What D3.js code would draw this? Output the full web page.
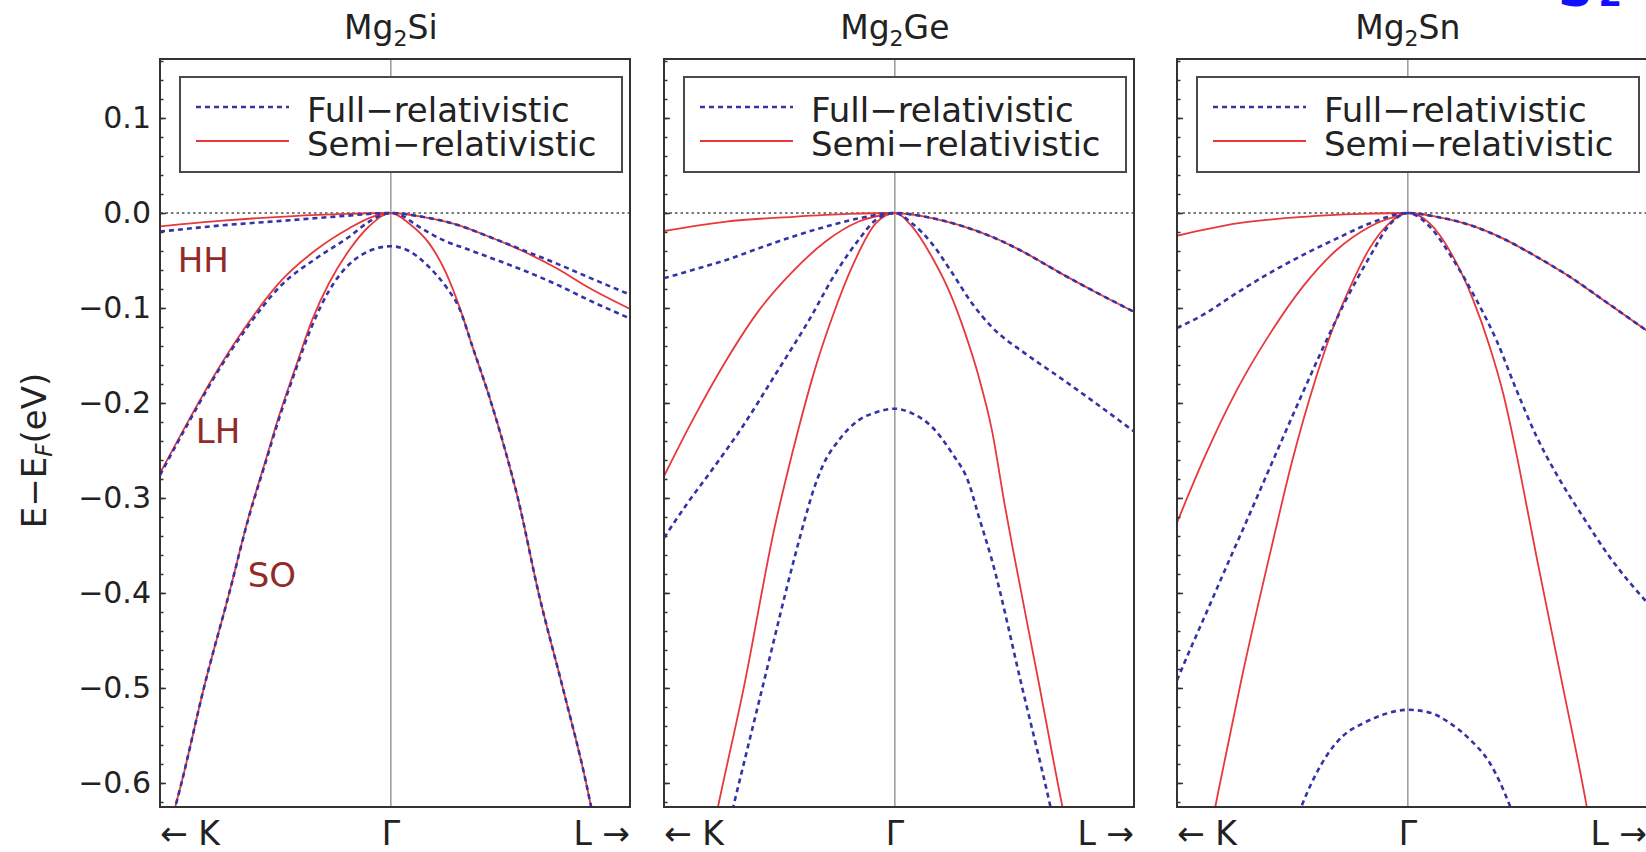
<!DOCTYPE html>
<html>
<head>
<meta charset="utf-8">
<script src="https://cdn.jsdelivr.net/npm/d3@7"></script>
<style>
  body { margin: 0; background: #fff; }
  svg { display: block; font-family: "DejaVu Sans", sans-serif; }
</style>
</head>
<body>
<div id="wrapper"></div>
<script>
// compounds Mg2X, one panel each
const compounds = ["Si", "Ge", "Sn"];
const yTickValues = [0.1, 0.0, -0.1, -0.2, -0.3, -0.4, -0.5, -0.6];
const kLabels = ["\u2190 K", "\u0393", "L \u2192"];
const legendLabels = ["Full\u2212relativistic", "Semi\u2212relativistic"];
const bandNames = ["HH", "LH", "SO"];
const bandLabelPos = [[-0.923, -0.062], [-0.845, -0.242], [-0.62, -0.394]];

// bands as [k, E-EF]; k < 0 towards K, k > 0 towards L, 0 = Gamma
const siSemiHH = [[-1,-0.014],[-0.73,-0.008],[-0.44,-0.0035],[-0.2,-0.001],[0,0],[0.137,-0.004],[0.282,-0.012],[0.426,-0.025],[0.571,-0.040],[0.716,-0.058],[0.86,-0.079],[1.036,-0.101]];
const siSemiLH = [[-1,-0.274],[-0.875,-0.218],[-0.76,-0.169],[-0.63,-0.120],[-0.47,-0.070],[-0.325,-0.039],[-0.18,-0.016],[-0.08,-0.004],[0,0]];
const siSemiSO = [[-0.95,-0.64],[-0.907,-0.60],[-0.81,-0.50],[-0.70,-0.40],[-0.615,-0.319],[-0.542,-0.26],[-0.485,-0.214],[-0.412,-0.162],[-0.34,-0.112],[-0.268,-0.074],[-0.18,-0.039],[-0.094,-0.014],[0,0],[0.079,-0.011],[0.166,-0.032],[0.239,-0.063],[0.296,-0.098],[0.354,-0.141],[0.426,-0.193],[0.499,-0.253],[0.55,-0.30],[0.64,-0.40],[0.745,-0.50],[0.846,-0.60],[0.88,-0.64]];
const siFullHH = [[-1,-0.0196],[-0.73,-0.013],[-0.44,-0.0077],[-0.224,-0.0035],[0,0],[0.137,-0.004],[0.282,-0.012],[0.426,-0.025],[0.571,-0.039],[0.716,-0.053],[0.86,-0.068],[1.036,-0.086]];
const siFullLH = [[-1,-0.276],[-0.875,-0.22],[-0.76,-0.171],[-0.63,-0.123],[-0.47,-0.075],[-0.325,-0.048],[-0.18,-0.025],[-0.094,-0.009],[0,0],[0.05,-0.003],[0.1,-0.011],[0.166,-0.021],[0.24,-0.030],[0.33,-0.038],[0.43,-0.047],[0.571,-0.06],[0.716,-0.075],[0.86,-0.092],[1.036,-0.111]];
const siFullSO = [[-0.95,-0.64],[-0.907,-0.60],[-0.81,-0.50],[-0.70,-0.40],[-0.615,-0.32],[-0.542,-0.262],[-0.485,-0.217],[-0.412,-0.165],[-0.34,-0.118],[-0.268,-0.082],[-0.18,-0.054],[-0.094,-0.04],[0,-0.035],[0.079,-0.04],[0.166,-0.057],[0.24,-0.078],[0.296,-0.1],[0.354,-0.141],[0.426,-0.193],[0.499,-0.253],[0.55,-0.30],[0.64,-0.40],[0.745,-0.50],[0.846,-0.60],[0.88,-0.64]];

const geSemiHH = [[-1,-0.019],[-0.73,-0.009],[-0.44,-0.004],[-0.2,-0.001],[0,0],[0.133,-0.004],[0.276,-0.0126],[0.42,-0.025],[0.565,-0.042],[0.708,-0.062],[0.852,-0.081],[1.036,-0.104]];
const geSemiLH = [[-1,-0.277],[-0.876,-0.218],[-0.73,-0.155],[-0.587,-0.102],[-0.444,-0.062],[-0.3,-0.030],[-0.156,-0.009],[0,0]];
const geSemiSO = [[-0.80,-0.665],[-0.766,-0.625],[-0.653,-0.498],[-0.52,-0.33],[-0.472,-0.28],[-0.415,-0.225],[-0.343,-0.162],[-0.27,-0.109],[-0.184,-0.056],[-0.083,-0.011],[0,0],[0.075,-0.0144],[0.16,-0.046],[0.233,-0.081],[0.305,-0.127],[0.363,-0.172],[0.42,-0.228],[0.478,-0.31],[0.51,-0.352],[0.62,-0.49],[0.726,-0.625],[0.76,-0.665]];
const geFullHH = [[-1,-0.0687],[-0.876,-0.06],[-0.73,-0.0494],[-0.587,-0.037],[-0.444,-0.025],[-0.3,-0.0144],[-0.156,-0.0056],[0,0],[0.133,-0.004],[0.276,-0.0126],[0.42,-0.025],[0.565,-0.042],[0.708,-0.062],[0.852,-0.081],[1.036,-0.104]];
const geFullLH = [[-1,-0.342],[-0.9,-0.306],[-0.803,-0.274],[-0.66,-0.225],[-0.515,-0.169],[-0.37,-0.112],[-0.256,-0.063],[-0.156,-0.028],[-0.083,-0.0074],[0,0],[0.075,-0.011],[0.16,-0.032],[0.248,-0.063],[0.334,-0.095],[0.42,-0.12],[0.565,-0.148],[0.708,-0.172],[0.852,-0.197],[1.036,-0.23]];
const geFullSO = [[-0.74,-0.665],[-0.70,-0.625],[-0.572,-0.498],[-0.437,-0.365],[-0.386,-0.319],[-0.357,-0.295],[-0.314,-0.267],[-0.242,-0.239],[-0.156,-0.218],[-0.083,-0.210],[0,-0.206],[0.075,-0.211],[0.16,-0.225],[0.248,-0.253],[0.32,-0.284],[0.363,-0.319],[0.42,-0.365],[0.55,-0.498],[0.674,-0.625],[0.71,-0.665]];

const snSemiHH = [[-1,-0.024],[-0.74,-0.011],[-0.45,-0.004],[-0.2,-0.001],[0,0],[0.124,-0.004],[0.268,-0.0126],[0.413,-0.027],[0.557,-0.046],[0.701,-0.067],[0.846,-0.0915],[1.036,-0.124]];
const snSemiLH = [[-1,-0.326],[-0.886,-0.26],[-0.74,-0.186],[-0.597,-0.127],[-0.453,-0.077],[-0.309,-0.039],[-0.165,-0.0144],[0,0]];
const snSemiSO = [[-0.86,-0.656],[-0.83,-0.62],[-0.72,-0.49],[-0.584,-0.345],[-0.503,-0.263],[-0.40,-0.175],[-0.338,-0.13],[-0.25,-0.078],[-0.165,-0.037],[-0.09,-0.013],[0,0],[0.095,-0.011],[0.196,-0.046],[0.283,-0.0915],[0.355,-0.141],[0.413,-0.19],[0.47,-0.253],[0.52,-0.315],[0.56,-0.365],[0.671,-0.498],[0.775,-0.625],[0.80,-0.66]];
const snFullHH = [[-1,-0.121],[-0.886,-0.107],[-0.74,-0.084],[-0.597,-0.063],[-0.453,-0.044],[-0.309,-0.027],[-0.165,-0.011],[0,0],[0.124,-0.004],[0.268,-0.0126],[0.413,-0.027],[0.557,-0.046],[0.701,-0.067],[0.846,-0.0915],[1.036,-0.124]];
const snFullLH = [[-1,-0.492],[-0.974,-0.477],[-0.857,-0.412],[-0.78,-0.369],[-0.698,-0.324],[-0.612,-0.276],[-0.453,-0.188],[-0.36,-0.138],[-0.273,-0.094],[-0.165,-0.046],[-0.078,-0.012],[0,0],[0.095,-0.0144],[0.196,-0.049],[0.297,-0.0915],[0.384,-0.134],[0.47,-0.186],[0.557,-0.235],[0.644,-0.275],[0.759,-0.32],[0.874,-0.362],[1.036,-0.41]];
const snFullSO = [[-0.50,-0.65],[-0.46,-0.624],[-0.409,-0.596],[-0.351,-0.571],[-0.279,-0.55],[-0.192,-0.537],[-0.106,-0.528],[0,-0.523],[0.096,-0.526],[0.182,-0.537],[0.268,-0.554],[0.355,-0.579],[0.442,-0.624],[0.49,-0.657]];

const semiBands = [[siSemiHH, siSemiLH, siSemiSO], [geSemiHH, geSemiLH, geSemiSO], [snSemiHH, snSemiLH, snSemiSO]];
const fullBands = [[siFullHH, siFullLH, siFullSO], [geFullHH, geFullLH, geFullSO], [snFullHH, snFullLH, snFullSO]];

function drawChart() {
    let dimensions = {
        width: 1646,
        height: 852,
        top: 59,
        bottom: 807,
        panelWidth: 470,
        panelLefts: [160, 664, 1177],
    }
    dimensions.panelHeight = dimensions.bottom - dimensions.top;

    const blue = "#3434a6";
    const red = "#e8383a";

    const svg = d3.select("#wrapper")
        .append("svg")
        .attr("width", dimensions.width)
        .attr("height", dimensions.height);

    const xScale = d3.scaleLinear()
        .domain([-1, 1.036])
        .range([0, dimensions.panelWidth]);

    const yScale = d3.scaleLinear()
        .domain([-0.6253, 0.1621])
        .range([dimensions.panelHeight, 0]);

    const line = d3.line()
        .x(d => xScale(d[0]))
        .y(d => yScale(d[1]))
        .curve(d3.curveMonotoneX);

    const minorTicks = d3.range(-62, 17, 2).map(v => v / 100);

    compounds.forEach((comp, i) => {
        const g = svg.append("g")
            .attr("transform", `translate(${dimensions.panelLefts[i]},${dimensions.top})`);

        g.append("clipPath").attr("id", "clip" + i)
            .append("rect")
            .attr("width", dimensions.panelWidth)
            .attr("height", dimensions.panelHeight);

        // zero line and Gamma line
        g.append("line")
            .attr("x1", 0).attr("x2", dimensions.panelWidth)
            .attr("y1", yScale(0)).attr("y2", yScale(0))
            .attr("stroke", "#7a7a7a")
            .attr("stroke-width", 2)
            .attr("stroke-dasharray", "2.5,3");

        g.append("line")
            .attr("x1", xScale(0)).attr("x2", xScale(0))
            .attr("y1", 0).attr("y2", dimensions.panelHeight)
            .attr("stroke", "#8a8a8a")
            .attr("stroke-width", 1.3);

        const curves = g.append("g").attr("clip-path", `url(#clip${i})`);

        curves.selectAll(".semi")
            .data(semiBands[i])
            .join("path")
            .attr("class", "semi")
            .attr("d", line)
            .attr("fill", "none")
            .attr("stroke", red)
            .attr("stroke-width", 1.8);

        curves.selectAll(".full")
            .data(fullBands[i])
            .join("path")
            .attr("class", "full")
            .attr("d", line)
            .attr("fill", "none")
            .attr("stroke", blue)
            .attr("stroke-width", 2.6)
            .attr("stroke-dasharray", "5,4");

        // ticks on the left border, pointing inwards
        g.append("g")
            .call(d3.axisLeft(yScale).tickValues(minorTicks).tickSizeInner(-3.5).tickSizeOuter(0).tickFormat(""))
            .call(a => a.select(".domain").remove())
            .call(a => a.selectAll("line").attr("stroke", "#333").attr("stroke-width", 1.5));

        const yAxis = g.append("g")
            .call(d3.axisLeft(yScale).tickValues(yTickValues).tickSizeInner(-6).tickSizeOuter(0).tickPadding(9)
                .tickFormat(i === 0 ? d3.format(".1f") : ""))
            .call(a => a.select(".domain").remove());
        yAxis.selectAll("line").attr("stroke", "#333").attr("stroke-width", 1.5);
        yAxis.selectAll("text")
            .attr("font-size", 30)
            .attr("font-family", "DejaVu Sans")
            .attr("fill", "#222");

        // legend
        const legend = g.append("g");
        legend.append("rect")
            .attr("x", 20).attr("y", 18)
            .attr("width", dimensions.panelWidth - 28)
            .attr("height", 95)
            .attr("fill", "#fff")
            .attr("stroke", "#4a4a4a")
            .attr("stroke-width", 2);

        const legendStyles = [
            { color: blue, width: 2.6, dash: "5,4" },
            { color: red, width: 1.8, dash: null },
        ];
        legendLabels.forEach((label, j) => {
            const yy = 48 + j * 34;
            legend.append("line")
                .attr("x1", 36).attr("x2", 129)
                .attr("y1", yy).attr("y2", yy)
                .attr("stroke", legendStyles[j].color)
                .attr("stroke-width", legendStyles[j].width)
                .attr("stroke-dasharray", legendStyles[j].dash);
            legend.append("text")
                .attr("x", 147)
                .attr("y", yy + 15)
                .attr("font-size", 34)
                .attr("fill", "#222")
                .text(label);
        });

        // border
        g.append("rect")
            .attr("width", dimensions.panelWidth)
            .attr("height", dimensions.panelHeight)
            .attr("fill", "none")
            .attr("stroke", "#333")
            .attr("stroke-width", 2);

        // title Mg2X
        const title = g.append("text")
            .attr("x", xScale(0))
            .attr("y", -20)
            .attr("text-anchor", "middle")
            .attr("font-size", 33)
            .attr("fill", "#222");
        title.append("tspan").text("Mg");
        title.append("tspan").attr("font-size", 22).attr("dy", 7).text("2");
        title.append("tspan").attr("dy", -7).text(comp);

        // k-point labels
        const kPos = [0, xScale(0), dimensions.panelWidth];
        const kAnchor = ["start", "middle", "end"];
        kLabels.forEach((lab, j) => {
            g.append("text")
                .attr("x", kPos[j])
                .attr("y", dimensions.panelHeight + 38)
                .attr("text-anchor", kAnchor[j])
                .attr("font-size", 33)
                .attr("fill", "#222")
                .text(lab);
        });

        if (i === 0) {
            g.selectAll(".bandLabel")
                .data(bandNames)
                .join("text")
                .attr("class", "bandLabel")
                .attr("x", (d, j) => xScale(bandLabelPos[j][0]))
                .attr("y", (d, j) => yScale(bandLabelPos[j][1]))
                .attr("font-size", 34)
                .attr("fill", "#922a2a")
                .text(d => d);
        }
    });

    // y axis title
    const yTitle = svg.append("text")
        .attr("transform", `translate(46,${dimensions.top + yScale(-0.25)}) rotate(-90)`)
        .attr("text-anchor", "middle")
        .attr("font-size", 34)
        .attr("fill", "#222");
    yTitle.append("tspan").text("E\u2212E");
    yTitle.append("tspan").attr("font-size", 23).attr("font-style", "italic").attr("dy", 6).text("F");
    yTitle.append("tspan").attr("dy", -6).text("(eV)");

    // cut-off text at the top right corner
    const corner = svg.append("text")
        .attr("x", 1558)
        .attr("y", 6)
        .attr("font-size", 48)
        .attr("font-weight", "bold")
        .attr("fill", "#1010ff");
    corner.append("tspan").text("S");
    corner.append("tspan").attr("font-size", 34).attr("dx", 6).text("2");
}

drawChart();
</script>
</body>
</html>
